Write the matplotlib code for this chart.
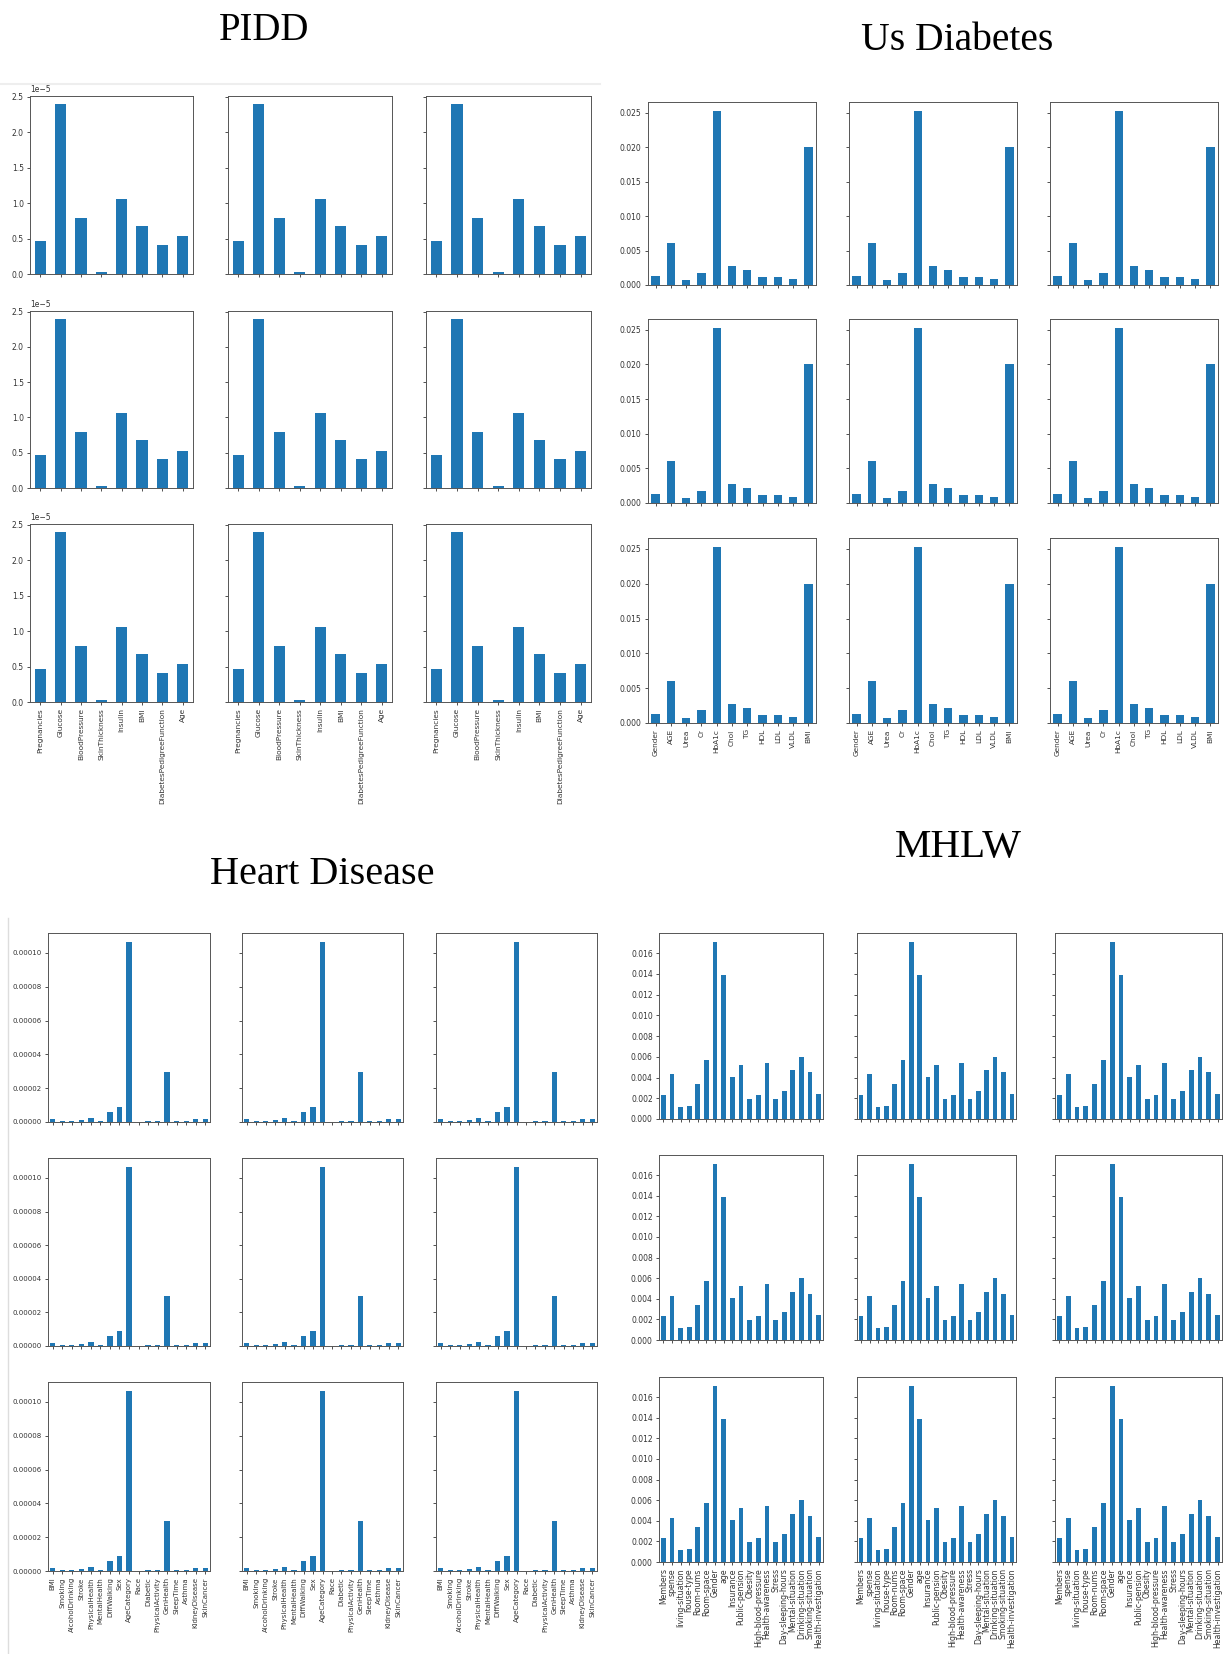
import matplotlib
matplotlib.use("Agg")
import matplotlib.pyplot as plt
from matplotlib.lines import Line2D
from matplotlib.ticker import MultipleLocator

W, H = 1228, 1654

# feature importances
pidd_names = ['Pregnancies', 'Glucose', 'BloodPressure', 'SkinThickness',
              'Insulin', 'BMI', 'DiabetesPedigreeFunction', 'Age']
pidd_vals = [0.47e-5, 2.39e-5, 0.79e-5, 0.03e-5, 1.06e-5, 0.68e-5, 0.41e-5, 0.53e-5]

usd_names = ['Gender', 'AGE', 'Urea', 'Cr', 'HbA1c', 'Chol', 'TG', 'HDL',
             'LDL', 'VLDL', 'BMI']
usd_vals = [0.0013, 0.0061, 0.0007, 0.0018, 0.0253, 0.0028, 0.0022, 0.0011,
            0.0011, 0.0008, 0.0200]

heart_names = ['BMI', 'Smoking', 'AlcoholDrinking', 'Stroke', 'PhysicalHealth',
               'MentalHealth', 'DiffWalking', 'Sex', 'AgeCategory', 'Race',
               'Diabetic', 'PhysicalActivity', 'GenHealth', 'SleepTime',
               'Asthma', 'KidneyDisease', 'SkinCancer']
heart_vals = [1.8e-6, 0.5e-6, 0.5e-6, 1.0e-6, 2.3e-6, 0.5e-6, 5.9e-6, 8.8e-6,
              1.065e-4, 0.1e-6, 0.5e-6, 0.6e-6, 2.95e-5, 0.5e-6, 0.5e-6,
              1.8e-6, 1.8e-6]

mhlw_names = ['Members', 'spense', 'living-situation', 'house-type',
              'Room-nums', 'Room-space', 'Gender', 'age', 'Insurance',
              'Public-pension', 'Obesity', 'High-blood-pressure',
              'Health-awareness', 'Stress', 'Day-sleeping-hours',
              'Mental-situation', 'Drinking-situation', 'Smoking-situation',
              'Health-investigation']
mhlw_vals = [0.0023, 0.0043, 0.0012, 0.0013, 0.0034, 0.0057, 0.0171, 0.0139,
             0.0041, 0.0052, 0.0019, 0.0023, 0.0054, 0.0019, 0.0027, 0.0047,
             0.0060, 0.0045, 0.0024]

fig = plt.figure(figsize=(W / 100, H / 100), dpi=100)


def box(x0, y0, x1, y1):
    return [x0 / W, 1 - y1 / H, (x1 - x0) / W, (y1 - y0) / H]


def panel(rect, names, vals, show_x, show_y, lab_size, tick_size, ystep):
    ax = fig.add_axes(box(*rect))
    ax.bar(range(len(vals)), vals, width=0.55, color='#1f77b4')
    ax.set_xlim(-0.5, len(vals) - 0.5)
    ax.set_xticks(range(len(vals)))
    if ystep:
        ax.yaxis.set_major_locator(MultipleLocator(ystep))
    if show_x:
        ax.set_xticklabels(names, rotation=90, fontsize=lab_size)
    else:
        ax.set_xticklabels([])
    ax.tick_params(axis='y', labelsize=tick_size)
    ax.tick_params(length=2.5, width=0.6, pad=2, colors='#333333')
    if not show_y:
        ax.tick_params(axis='y', labelleft=False)
        ax.yaxis.get_offset_text().set_visible(False)
    ax.yaxis.get_offset_text().set_fontsize(tick_size)
    for s in ax.spines.values():
        s.set_linewidth(0.7)
        s.set_color('#555555')
    return ax


def block(cols, rows, names, vals, lab_size, tick_size=5.5, ystep=None):
    for r, (y0, y1) in enumerate(rows):
        for c, (x0, x1) in enumerate(cols):
            panel((x0, y0, x1, y1), names, vals, r == len(rows) - 1, c == 0,
                  lab_size, tick_size, ystep)


block([(30, 193), (228, 392), (426, 591)],
      [(96, 274), (311, 488), (524, 702)], pidd_names, pidd_vals, 5.3)
block([(648, 816), (849, 1017), (1050, 1218)],
      [(102, 285), (319, 503), (538, 723)], usd_names, usd_vals, 5.3)
block([(48, 210), (242, 403), (436, 597)],
      [(933, 1122), (1158, 1346), (1382, 1571)], heart_names, heart_vals, 5.0,
      tick_size=5.0)
block([(659, 823), (857, 1016), (1055, 1222)],
      [(933, 1119), (1155, 1340), (1377, 1562)], mhlw_names, mhlw_vals, 5.6,
      ystep=0.002)

title_font = dict(family='Liberation Serif', ha='center', va='center')
fig.text(264 / W, 1 - 30 / H, 'PIDD', fontsize=28, **title_font)
fig.text(957 / W, 1 - 40 / H, 'Us Diabetes', fontsize=28.5, **title_font)
fig.text(322 / W, 1 - 875 / H, 'Heart Disease', fontsize=29, **title_font)
fig.text(958 / W, 1 - 847 / H, 'MHLW', fontsize=29.5, **title_font)

# faint screenshot borders
fig.add_artist(Line2D([0, 600 / W], [1 - 84 / H, 1 - 84 / H], color='#eeeeee', lw=1.5))
fig.add_artist(Line2D([8 / W, 8 / W], [1 - 918 / H, 0], color='#dddddd', lw=1))

fig.savefig('out.png', dpi=100, facecolor='white')
